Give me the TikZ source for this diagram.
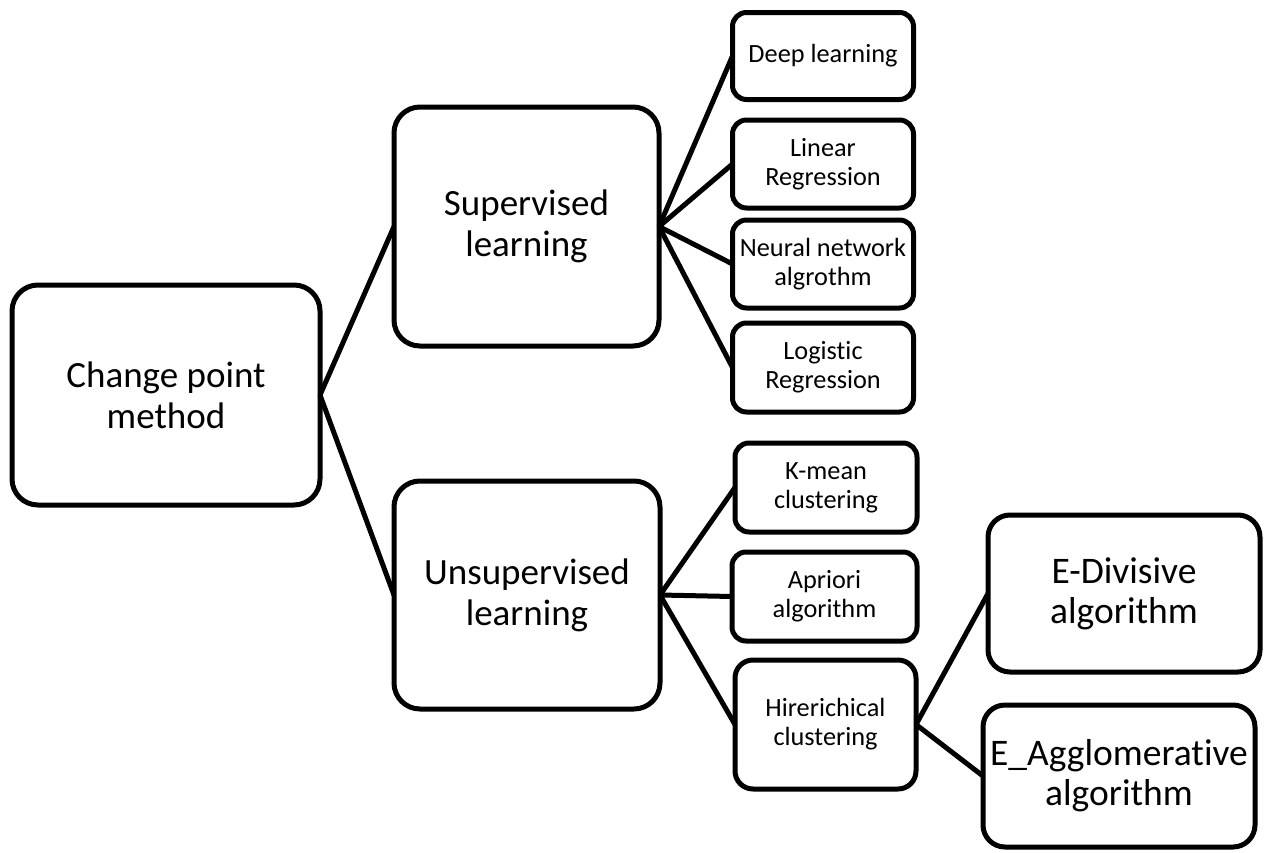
\documentclass[tikz,border=0pt]{standalone}
\usepackage{fontspec}
\setmainfont{Carlito}[Ligatures={NoCommon}]
\begin{document}
\begin{tikzpicture}[x=1pt,y=-1pt,
  box/.style={draw=black, line width=5pt, rounded corners=#1, align=center, inner sep=0pt, outer sep=0pt},
  box/.default=14pt,
  bigtxt/.style={font=\fontsize{37}{41}\selectfont},
  smalltxt/.style={font=\fontsize{26.3}{29}\selectfont},
  edtxt/.style={font=\fontsize{37.5}{40}\selectfont},
  link/.style={draw=black, line width=5pt}]
\fill[white] (0,0) rectangle (1267,852);
\useasboundingbox (0,0) rectangle (1267,852);

\node[box=26pt, bigtxt, minimum width=308pt, minimum height=220pt] (cpm) at (166,395) {Change point\\method};
\node[box=26pt, bigtxt, minimum width=265pt, minimum height=239pt] (sup) at (526.5,226.5) {Supervised\\learning};
\node[box=26pt, bigtxt, minimum width=266pt, minimum height=228pt] (uns) at (527,595) {Unsupervised\\learning};

\node[box, smalltxt, minimum width=181pt, minimum height=87pt] (dl) at (823,56) {Deep learning};
\node[box, smalltxt, minimum width=181pt, minimum height=88pt] (lr) at (823,164) {Linear\\Regression};
\node[box, smalltxt, minimum width=181pt, minimum height=88pt] (nn) at (823,264) {Neural network\\algrothm};
\node[box, smalltxt, minimum width=181pt, minimum height=89pt] (lg) at (823,367.5) {Logistic\\Regression};

\node[box, smalltxt, minimum width=182pt, minimum height=89pt] (km) at (826,487.5) {K-mean\\clustering};
\node[box, smalltxt, minimum width=185pt, minimum height=89pt] (ap) at (824.5,596.5) {Apriori\\algorithm};
\node[box=18pt, smalltxt, minimum width=181pt, minimum height=129pt] (hc) at (825.5,724.5) {Hirerichical\\clustering};

\node[box=22pt, edtxt, minimum width=272pt, minimum height=157pt] (ed) at (1124,593.5) {E-Divisive\\algorithm};
\node[box=22pt, edtxt, minimum width=272pt, minimum height=142pt] (ea) at (1119,776) {E\_Agglomerative\\algorithm};

\draw[link] (cpm.east) -- (sup.west);
\draw[link] (cpm.east) -- (uns.west);
\draw[link] (sup.east) -- (dl.west);
\draw[link] (sup.east) -- (lr.west);
\draw[link] (sup.east) -- (nn.west);
\draw[link] (sup.east) -- (lg.west);
\draw[link] (uns.east) -- (km.west);
\draw[link] (uns.east) -- (ap.west);
\draw[link] (uns.east) -- (hc.west);
\draw[link] (hc.east) -- (ed.west);
\draw[link] (hc.east) -- (ea.west);
\end{tikzpicture}
\end{document}
